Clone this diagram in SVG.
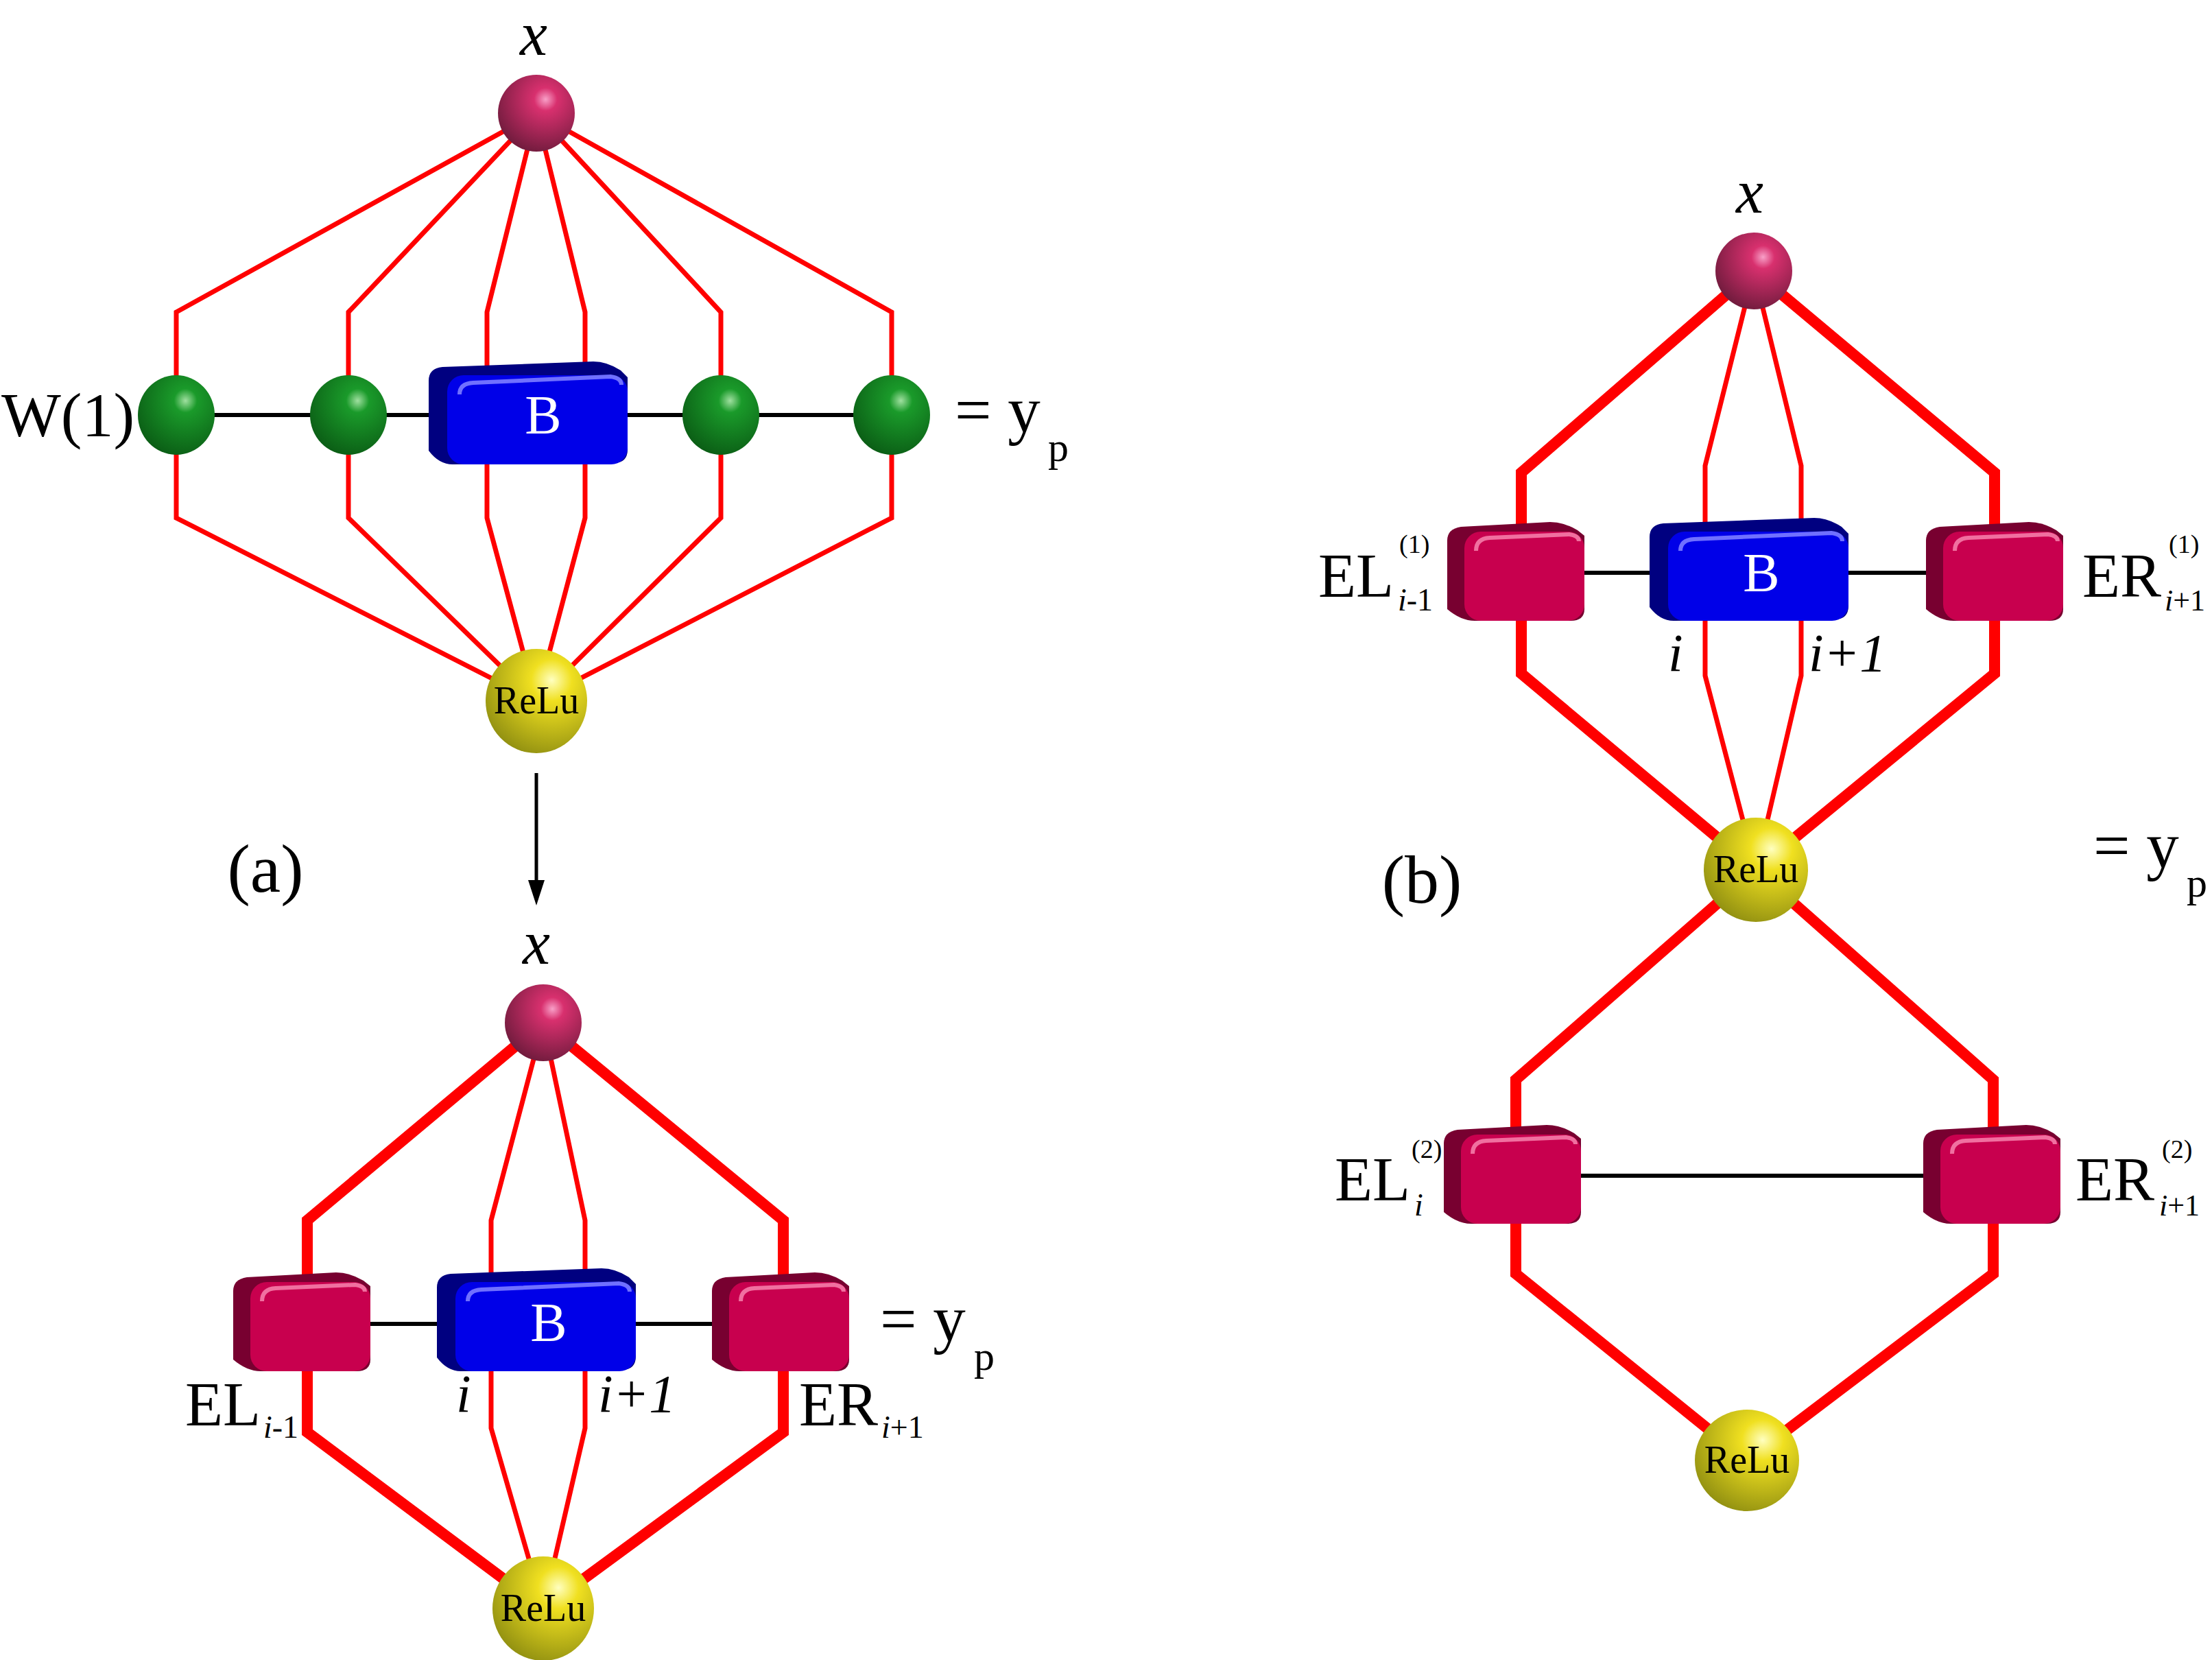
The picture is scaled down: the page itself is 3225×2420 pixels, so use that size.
<svg xmlns="http://www.w3.org/2000/svg" xmlns:xlink="http://www.w3.org/1999/xlink" width="3225" height="2420" viewBox="0 0 3225 2420">
<style>
.t{font-family:"Liberation Serif","Times New Roman",serif;fill:#000}
.it{font-style:italic}
.thin{fill:none;stroke:#ff0000;stroke-width:7;stroke-linejoin:miter}
.thick{fill:none;stroke:#ff0000;stroke-width:16;stroke-linejoin:miter}
.blk{fill:none;stroke:#000;stroke-width:6}
</style>
<defs>
<radialGradient id="gPink" cx="0.62" cy="0.32" r="0.75"><stop offset="0" stop-color="#f8a0c8"/><stop offset="0.2" stop-color="#d8306e"/><stop offset="1" stop-color="#6a1a3a"/></radialGradient>
<radialGradient id="gGreen" cx="0.62" cy="0.32" r="0.75"><stop offset="0" stop-color="#a0e0a0"/><stop offset="0.2" stop-color="#1a9a2a"/><stop offset="1" stop-color="#0a5a14"/></radialGradient>
<radialGradient id="gYel" cx="0.65" cy="0.3" r="0.8"><stop offset="0" stop-color="#ffffc0"/><stop offset="0.25" stop-color="#f0e020"/><stop offset="1" stop-color="#8a8a10"/></radialGradient>
<g id="pbox">
<path d="M-100,-45 Q-100,-62 -80,-65 L50,-72 Q70,-72 90,-60 L100,-52 L100,55 Q100,72 80,72 L-60,72 Q-80,72 -100,55 Z" fill="#780030"/>
<rect x="-75" y="-58" width="175" height="130" rx="24" fill="#c8004e"/>
<path d="M-58,-30 Q-58,-48 -38,-49 L78,-54 Q92,-52 92,-44" fill="none" stroke="#f070a0" stroke-width="6"/>
</g>
<g id="bbox">
<path d="M-145,-50 Q-145,-68 -125,-70 L95,-78 Q115,-78 135,-65 L145,-55 L145,50 Q145,70 125,70 L-110,72 Q-130,72 -145,52 Z" fill="#000080"/>
<rect x="-118" y="-58" width="263" height="130" rx="24" fill="#0000e8"/>
<path d="M-100,-30 Q-100,-46 -80,-47 L120,-56 Q136,-54 136,-44" fill="none" stroke="#7070ff" stroke-width="6"/>
</g>
</defs>

<g id="connectors">
<path class="blk" d="M257,605 L1300,605"/>
<path class="thin" d="M782,165 L257,455 L257,755 L782,1022"/>
<path class="thin" d="M782,165 L508,455 L508,755 L782,1022"/>
<path class="thin" d="M782,165 L710,455 L710,755 L782,1022"/>
<path class="thin" d="M782,165 L853,455 L853,755 L782,1022"/>
<path class="thin" d="M782,165 L1051,455 L1051,755 L782,1022"/>
<path class="thin" d="M782,165 L1300,455 L1300,755 L782,1022"/>
<path d="M782,1127 L782,1285" stroke="#000" stroke-width="5"/>
<polygon points="770,1283 794,1283 782,1320" fill="#000"/>
<path class="blk" d="M446,1930 L1142,1930"/>
<path class="thick" d="M792,1491 L448,1779 L448,2088 L792,2345"/>
<path class="thick" d="M792,1491 L1142,1779 L1142,2088 L792,2345"/>
<path class="thin" d="M792,1491 L716,1779 L716,2082 L792,2345"/>
<path class="thin" d="M792,1491 L853,1779 L853,2082 L792,2345"/>
<path class="blk" d="M2213,835 L2911,835"/>
<path class="thick" d="M2557,395 L2218,689 L2218,982 L2560,1268"/>
<path class="thick" d="M2557,395 L2908,689 L2908,982 L2560,1268"/>
<path class="thin" d="M2557,395 L2486,679 L2486,985 L2560,1268"/>
<path class="thin" d="M2557,395 L2626,679 L2626,985 L2560,1268"/>
<path class="blk" d="M2205,1714 L2904,1714"/>
<path class="thick" d="M2560,1268 L2210,1574 L2210,1857 L2547,2129"/>
<path class="thick" d="M2560,1268 L2906,1574 L2906,1857 L2547,2129"/>
</g>

<g id="xa"><ellipse cx="782" cy="165" rx="56" ry="56" fill="url(#gPink)"/></g>
<g id="g1"><ellipse cx="257" cy="605" rx="56" ry="58" fill="url(#gGreen)"/></g>
<g id="g2"><ellipse cx="508" cy="605" rx="56" ry="58" fill="url(#gGreen)"/></g>
<g id="g3"><ellipse cx="1051" cy="605" rx="56" ry="58" fill="url(#gGreen)"/></g>
<g id="g4"><ellipse cx="1300" cy="605" rx="56" ry="58" fill="url(#gGreen)"/></g>
<g id="Ba"><use xlink:href="#bbox" transform="translate(770,605)"/><text class="t" x="792" y="632" font-size="80" text-anchor="middle" style="fill:#fff">B</text></g>
<g id="ra"><ellipse cx="782" cy="1022" rx="74" ry="76" fill="url(#gYel)"/><text class="t" x="782" y="1040" font-size="56" text-anchor="middle">ReLu</text></g>

<g id="xb"><ellipse cx="792" cy="1491" rx="56" ry="56" fill="url(#gPink)"/></g>
<g id="ELa"><use xlink:href="#pbox" transform="translate(440,1927)"/></g>
<g id="Bb"><use xlink:href="#bbox" transform="translate(782,1927)"/><text class="t" x="800" y="1955" font-size="80" text-anchor="middle" style="fill:#fff">B</text></g>
<g id="ERa"><use xlink:href="#pbox" transform="translate(1138,1927)"/></g>
<g id="rb"><ellipse cx="792" cy="2345" rx="74" ry="76" fill="url(#gYel)"/><text class="t" x="792" y="2363" font-size="56" text-anchor="middle">ReLu</text></g>

<g id="xc"><ellipse cx="2557" cy="395" rx="56" ry="56" fill="url(#gPink)"/></g>
<g id="EL1"><use xlink:href="#pbox" transform="translate(2210,833)"/></g>
<g id="Bc"><use xlink:href="#bbox" transform="translate(2550,833)"/><text class="t" x="2568" y="862" font-size="80" text-anchor="middle" style="fill:#fff">B</text></g>
<g id="ER1"><use xlink:href="#pbox" transform="translate(2908,833)"/></g>
<g id="rc"><ellipse cx="2560" cy="1268" rx="76" ry="76" fill="url(#gYel)"/><text class="t" x="2560" y="1286" font-size="56" text-anchor="middle">ReLu</text></g>
<g id="EL2"><use xlink:href="#pbox" transform="translate(2205,1712)"/></g>
<g id="ER2"><use xlink:href="#pbox" transform="translate(2904,1712)"/></g>
<g id="rd"><ellipse cx="2547" cy="2129" rx="76" ry="74" fill="url(#gYel)"/><text class="t" x="2547" y="2147" font-size="56" text-anchor="middle">ReLu</text></g>

<g id="labels">
<text class="t it" x="778" y="80" font-size="90" text-anchor="middle">x</text>
<text class="t" x="2" y="636" font-size="92">W(1)</text>
<text class="t" x="1392" y="630" font-size="95">= y</text>
<text class="t" x="1528" y="672" font-size="60">p</text>
<text class="t" x="387" y="1300" font-size="100" text-anchor="middle">(a)</text>

<text class="t it" x="782" y="1405" font-size="90" text-anchor="middle">x</text>
<text class="t" x="1283" y="1955" font-size="95">= y</text>
<text class="t" x="1420" y="1997" font-size="60">p</text>
<text class="t" x="270" y="2078" font-size="90">EL</text>
<text class="t" x="384" y="2096" font-size="46"><tspan font-style="italic">i</tspan>-1</text>
<text class="t it" x="665" y="2058" font-size="78">i</text>
<text class="t it" x="872" y="2058" font-size="78">i+1</text>
<text class="t" x="1165" y="2078" font-size="90">ER</text>
<text class="t" x="1285" y="2096" font-size="46"><tspan font-style="italic">i</tspan>+1</text>

<text class="t it" x="2551" y="310" font-size="90" text-anchor="middle">x</text>
<text class="t" x="1922" y="870" font-size="90">EL</text>
<text class="t" x="2040" y="806" font-size="38">(1)</text>
<text class="t" x="2038" y="890" font-size="46"><tspan font-style="italic">i</tspan>-1</text>
<text class="t" x="3036" y="870" font-size="90">ER</text>
<text class="t" x="3162" y="806" font-size="38">(1)</text>
<text class="t" x="3156" y="890" font-size="44"><tspan font-style="italic">i</tspan>+1</text>
<text class="t it" x="2432" y="978" font-size="78">i</text>
<text class="t it" x="2637" y="978" font-size="78">i+1</text>
<text class="t" x="2073" y="1316" font-size="100" text-anchor="middle">(b)</text>
<text class="t" x="3052" y="1265" font-size="95">= y</text>
<text class="t" x="3188" y="1307" font-size="60">p</text>
<text class="t" x="1946" y="1750" font-size="90">EL</text>
<text class="t" x="2058" y="1688" font-size="38">(2)</text>
<text class="t it" x="2062" y="1772" font-size="46">i</text>
<text class="t" x="3026" y="1750" font-size="90">ER</text>
<text class="t" x="3152" y="1688" font-size="38">(2)</text>
<text class="t" x="3148" y="1772" font-size="44"><tspan font-style="italic">i</tspan>+1</text>
</g>
</svg>
